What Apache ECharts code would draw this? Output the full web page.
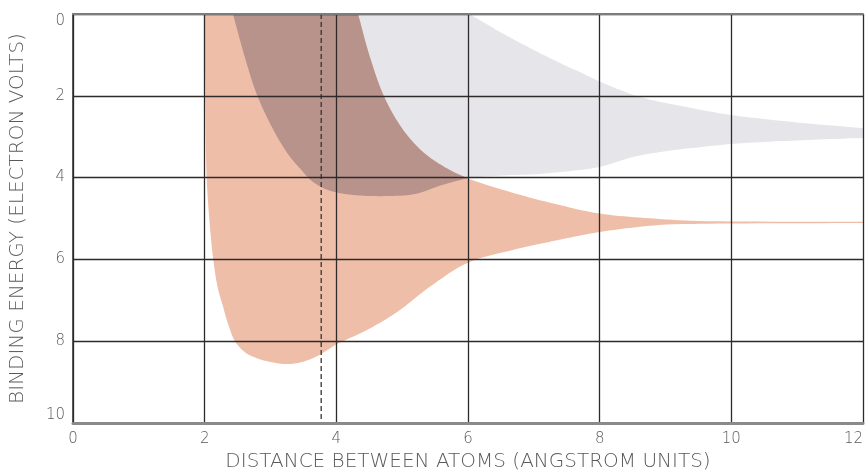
<!DOCTYPE html>
<html>
<head>
<meta charset="utf-8">
<script src="https://cdn.jsdelivr.net/npm/echarts@6/dist/echarts.min.js"></script>
<style>
  html, body { margin: 0; padding: 0; background: #ffffff; }
  #chart { width: 865px; height: 475px; }
</style>
</head>
<body>
<div id="chart"></div>
<script>
// Axis ticks
const xTicks = [0, 2, 4, 6, 8, 10, 12];
const yTicks = [0, 2, 4, 6, 8, 10];

// Lower-energy band (orange): outer edge traced from the top at r = 2 Å,
// down round the minimum, then out to the isolated-atom level.
const orangeOuter = [
  [2.00, 0], [2.01, 2], [2.03, 4], [2.07, 5], [2.13, 6], [2.20, 6.7],
  [2.28, 7.16], [2.36, 7.6], [2.46, 8.0], [2.62, 8.28], [2.80, 8.42],
  [3.00, 8.51], [3.25, 8.56], [3.50, 8.50], [3.75, 8.33], [4.00, 8.08],
  [4.46, 7.73], [4.92, 7.29], [5.42, 6.67], [6.00, 6.08], [6.68, 5.77],
  [7.39, 5.52], [8.00, 5.33], [8.90, 5.16], [9.50, 5.13], [12.00, 5.11]
];
// Orange band: upper edge (less binding), from the top down to the right
const orangeInner = [
  [4.33, 0], [4.50, 1.0], [4.72, 2.0], [5.00, 2.8], [5.30, 3.35],
  [5.60, 3.70], [6.00, 4.02], [6.70, 4.38], [7.39, 4.67], [8.00, 4.88],
  [8.90, 5.01], [9.50, 5.06], [12.00, 5.08]
];

// Higher band (gray): upper edge from the top out to r = 12 Å
const grayTop = [
  [6.02, 0], [6.50, 0.45], [7.00, 0.88], [7.40, 1.20], [7.70, 1.42],
  [8.00, 1.65], [8.60, 2.02], [9.30, 2.27], [10.00, 2.47], [11.00, 2.65],
  [12.00, 2.79]
];
// Gray band: lower edge from the top left out to r = 12 Å
const grayBottom = [
  [2.43, 0], [2.60, 1.0], [2.80, 2.0], [3.10, 3.0], [3.30, 3.5],
  [3.45, 3.78], [3.64, 4.10], [3.90, 4.32], [4.30, 4.43], [4.80, 4.45],
  [5.20, 4.40], [5.57, 4.20], [6.00, 4.02], [6.50, 3.95], [7.00, 3.92],
  [7.50, 3.85], [8.00, 3.74], [8.50, 3.50], [8.90, 3.38], [10.00, 3.18],
  [11.00, 3.09], [12.00, 3.03]
];

// Equilibrium spacing marker
const equilibriumX = 3.77;

const COLORS = {
  orange: '#efbea8',
  gray: '#e6e6ea',
  overlap: '#b8938c',
  grid: '#2e2a2a',
  frame: '#7c7c7c',
  text: '#5a5a5a'
};

// Distance at which the two bands cross
const crossX = 6.00;

// Centripetal Catmull-Rom smoothing of an edge, in pixel space
function smoothEdge(pts, steps) {
  if (pts.length < 3) return pts.slice();
  const out = [];
  const dist = (p, q) => Math.max(Math.pow(Math.hypot(q[0] - p[0], q[1] - p[1]), 0.5), 1e-6);
  const L = (p, q, ta, tb, t) => {
    const w = (t - ta) / (tb - ta);
    return [p[0] + (q[0] - p[0]) * w, p[1] + (q[1] - p[1]) * w];
  };
  const n = pts.length;
  for (let i = 0; i < n - 1; i++) {
    const p1 = pts[i], p2 = pts[i + 1];
    const p0 = i > 0 ? pts[i - 1] : [2 * p1[0] - p2[0], 2 * p1[1] - p2[1]];
    const p3 = i < n - 2 ? pts[i + 2] : [2 * p2[0] - p1[0], 2 * p2[1] - p1[1]];
    const t0 = 0, t1 = t0 + dist(p0, p1), t2 = t1 + dist(p1, p2), t3 = t2 + dist(p2, p3);
    for (let k = 0; k < steps; k++) {
      const t = t1 + (t2 - t1) * k / steps;
      const A1 = L(p0, p1, t0, t1, t), A2 = L(p1, p2, t1, t2, t), A3 = L(p2, p3, t2, t3, t);
      const B1 = L(A1, A2, t0, t2, t), B2 = L(A2, A3, t1, t3, t);
      out.push(L(B1, B2, t1, t2, t));
    }
  }
  out.push(pts[n - 1]);
  return out;
}

// Band outlines: each built from two smoothed edges
const bandShapes = {
  gray: function (api) {
    const top = smoothEdge(grayTop.map(p => api.coord(p)), 12);
    const bot = smoothEdge(grayBottom.map(p => api.coord(p)), 12);
    return top.concat(bot.reverse());
  },
  orange: function (api) {
    const outer = smoothEdge(orangeOuter.map(p => api.coord(p)), 12);
    const inner = smoothEdge(orangeInner.map(p => api.coord(p)), 12);
    return outer.concat(inner.reverse());
  },
  overlap: function (api) {
    const cx = api.coord([crossX, 0])[0];
    const bot = smoothEdge(grayBottom.map(p => api.coord(p)), 12).filter(p => p[0] <= cx + 0.5);
    const inner = smoothEdge(orangeInner.map(p => api.coord(p)), 12).filter(p => p[0] <= cx + 0.5);
    return bot.concat(inner.reverse());
  }
};

function bandSeries(name, key, color, z, edgeData) {
  return {
    name: name,
    type: 'custom',
    coordinateSystem: 'cartesian2d',
    z: z,
    silent: true,
    clip: true,
    data: edgeData,
    encode: { x: 0, y: 1 },
    renderItem: function (params, api) {
      if (params.dataIndex !== 0) return null;
      return {
        type: 'polygon',
        shape: { points: bandShapes[key](api) },
        style: { fill: color, stroke: null }
      };
    }
  };
}

const FONT = '"DejaVu Sans", "Liberation Sans", sans-serif';
const tickText = { color: COLORS.text, fontFamily: FONT, fontSize: 15, fontWeight: 200 };

const chart = echarts.init(document.getElementById('chart'), null, { renderer: 'canvas' });
chart.setOption({
  animation: false,
  backgroundColor: '#ffffff',
  grid: {
    left: 73, right: 2, top: 14, bottom: 52, show: false,
    containLabel: false, outerBoundsMode: 'none'
  },
  xAxis: [{
    type: 'value',
    min: 0, max: 12, interval: 2,
    name: 'DISTANCE BETWEEN ATOMS (ANGSTROM UNITS)',
    nameLocation: 'middle',
    nameGap: 29,
    nameTextStyle: { color: COLORS.text, fontFamily: FONT, fontSize: 20, fontWeight: 200 },
    axisLine: { show: true, onZero: false, lineStyle: { color: '#8a8a8a', width: 3 } },
    axisTick: { show: false },
    axisLabel: Object.assign({}, tickText, {
      margin: 9,
      alignMaxLabel: 'right',
      formatter: v => xTicks.includes(v) ? String(v) : ''
    }),
    splitLine: { show: true, lineStyle: { color: COLORS.grid, width: 1.3 } },
    z: 5
  }, {
    // top frame of the plot
    type: 'value',
    position: 'top',
    min: 0, max: 12, interval: 2,
    axisLine: { show: true, onZero: false, lineStyle: { color: COLORS.frame, width: 2 } },
    axisTick: { show: false },
    axisLabel: { show: false },
    splitLine: { show: false },
    z: 6
  }],
  yAxis: {
    type: 'value',
    inverse: true,
    min: 0, max: 10, interval: 2,
    name: 'BINDING ENERGY (ELECTRON VOLTS)',
    nameLocation: 'middle',
    nameGap: 45,
    nameRotate: 90,
    nameTextStyle: { color: COLORS.text, fontFamily: FONT, fontSize: 20, fontWeight: 200 },
    axisLine: { show: true, onZero: false, lineStyle: { color: COLORS.grid, width: 1.5 } },
    axisTick: { show: false },
    axisLabel: Object.assign({}, tickText, {
      margin: 8,
      // the end labels sit inside the frame
      formatter: v => {
        if (!yTicks.includes(v)) return '';
        if (v === yTicks[0]) return '{first|' + v + '}';
        if (v === yTicks[yTicks.length - 1]) return '{last|' + v + '}';
        return String(v);
      },
      rich: {
        first: Object.assign({}, tickText, { padding: [14, 0, 0, 0] }),
        last: Object.assign({}, tickText, { padding: [0, 0, 16, 0] })
      }
    }),
    splitLine: { show: true, lineStyle: { color: COLORS.grid, width: 1.3 } },
    z: 5
  },
  series: [
    bandSeries('upper band', 'gray', COLORS.gray, 1, grayTop.concat(grayBottom)),
    bandSeries('lower band', 'orange', COLORS.orange, 2, orangeOuter.concat(orangeInner)),
    bandSeries('overlap', 'overlap', COLORS.overlap, 3, grayBottom.concat(orangeInner)),
    {
      name: 'equilibrium spacing',
      type: 'line',
      z: 4,
      silent: true,
      symbol: 'none',
      data: [[equilibriumX, 0], [equilibriumX, 10]],
      lineStyle: { color: '#3a3030', width: 1.3, type: [5, 3] }
    }
  ]
});
</script>
</body>
</html>
